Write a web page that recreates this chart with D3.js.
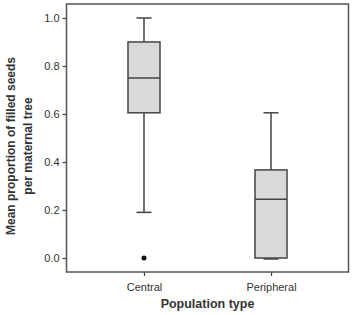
<!DOCTYPE html>
<html>
  <head>
    <meta charset="utf-8">
    <title>Filled seeds box plot</title>
    <script src="https://d3js.org/d3.v7.min.js"></script>
    <style>
      body { margin: 0; background: #fff; }
      text { font-family: "Liberation Sans", Arial, sans-serif; fill: #333; }
    </style>
  </head>
  <body>
    <script>
      // data
      var categories = ["Central", "Peripheral"],
        whiskerLow = [0.19, 0.0],
        q1 = [0.605, 0.0],
        medians = [0.75, 0.245],
        q3 = [0.90, 0.367],
        whiskerHigh = [1.0, 0.605],
        outliers = [[0.0], []],
        yTicks = [0, 0.2, 0.4, 0.6, 0.8, 1.0];

      var width = 352, height = 315,
        margin = {top: 4, right: 3.5, bottom: 43, left: 66.5};

      var svg = d3.select("body").append("svg")
        .attr("width", width)
        .attr("height", height);

      var x = d3.scalePoint()
        .domain(categories)
        .range([margin.left, width - margin.right])
        .padding(0.61);

      var y = d3.scaleLinear()
        .domain([-0.0583, 1.0583])
        .range([height - margin.bottom, margin.top]);

      // axes
      var yAxis = svg.append("g")
        .attr("transform", "translate(" + margin.left + ",0)")
        .call(d3.axisLeft(y).tickValues(yTicks).tickFormat(d3.format(".1f")).tickSize(4).tickPadding(3));
      var xAxis = svg.append("g")
        .attr("transform", "translate(0," + (height - margin.bottom) + ")")
        .call(d3.axisBottom(x).tickSize(4).tickPadding(7));

      [yAxis, xAxis].forEach(function(a) {
        a.select(".domain").remove();
        a.selectAll("line").attr("stroke", "#444").attr("stroke-width", 1.2);
        a.selectAll("text").style("font-size", "11px").attr("fill", "#333");
      });

      // frame
      svg.append("rect")
        .attr("x", margin.left)
        .attr("y", margin.top)
        .attr("width", width - margin.left - margin.right)
        .attr("height", height - margin.top - margin.bottom)
        .attr("fill", "none")
        .attr("stroke", "#555")
        .attr("stroke-width", 1.5);

      var boxW = 32, capW = 15;
      var groups = svg.selectAll("g.box")
        .data(categories)
        .enter().append("g")
          .attr("class", "box");

      groups.each(function(c, i) {
        var g = d3.select(this), cx = x(c);
        // whiskers
        g.append("line")
          .attr("x1", cx).attr("x2", cx)
          .attr("y1", y(whiskerHigh[i])).attr("y2", y(q3[i]));
        g.append("line")
          .attr("x1", cx).attr("x2", cx)
          .attr("y1", y(q1[i])).attr("y2", y(whiskerLow[i]));
        g.append("line")
          .attr("x1", cx - capW / 2).attr("x2", cx + capW / 2)
          .attr("y1", y(whiskerHigh[i])).attr("y2", y(whiskerHigh[i]));
        g.append("line")
          .attr("x1", cx - capW / 2).attr("x2", cx + capW / 2)
          .attr("y1", y(whiskerLow[i]) + (whiskerLow[i] === q1[i] ? 1 : 0))
          .attr("y2", y(whiskerLow[i]) + (whiskerLow[i] === q1[i] ? 1 : 0));
        // box
        g.append("rect")
          .attr("x", cx - boxW / 2)
          .attr("y", y(q3[i]))
          .attr("width", boxW)
          .attr("height", y(q1[i]) - y(q3[i]))
          .attr("fill", "#d9d9d9");
        g.append("line")
          .attr("x1", cx - boxW / 2).attr("x2", cx + boxW / 2)
          .attr("y1", y(medians[i])).attr("y2", y(medians[i]));
        g.append("rect")
          .attr("x", cx - boxW / 2)
          .attr("y", y(q3[i]))
          .attr("width", boxW)
          .attr("height", y(q1[i]) - y(q3[i]))
          .attr("fill", "none");
        g.selectAll("line, rect:last-of-type")
          .attr("stroke", "#444")
          .attr("stroke-width", 1.5);
        // outliers
        g.selectAll("circle")
          .data(outliers[i])
          .enter().append("circle")
            .attr("cx", cx)
            .attr("cy", function(d) { return y(d); })
            .attr("r", 2.5)
            .attr("fill", "#111");
      });

      // axis titles
      svg.append("text")
        .attr("x", (margin.left + width - margin.right) / 2)
        .attr("y", 308)
        .attr("text-anchor", "middle")
        .style("font-size", "12.5px")
        .style("font-weight", "bold")
        .attr("fill", "#222")
        .text("Population type");

      var yTitle = svg.append("text")
        .attr("transform", "translate(15,146) rotate(-90)")
        .attr("text-anchor", "middle")
        .style("font-size", "12px")
        .style("font-weight", "bold")
        .attr("fill", "#222");
      yTitle.append("tspan").attr("x", 0).attr("dy", 0).text("Mean proportion of filled seeds");
      yTitle.append("tspan").attr("x", 0).attr("dy", 16.5).text("per maternal tree");
    </script>
  </body>
</html>
